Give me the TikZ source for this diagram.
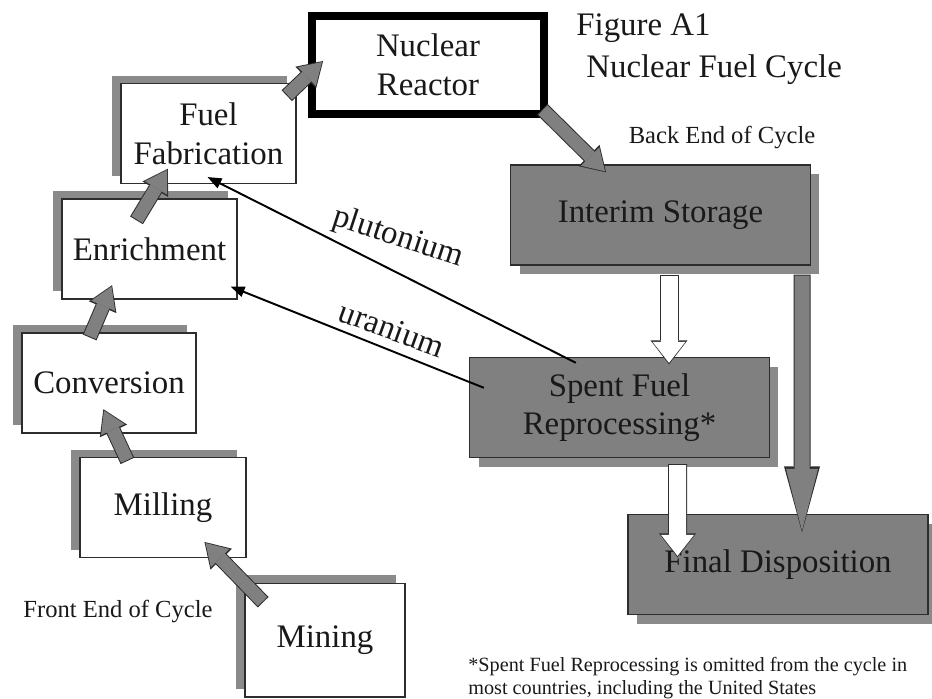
\documentclass[tikz,border=0pt]{standalone}
\usepackage{fontspec}
\setmainfont{Liberation Serif}
\usetikzlibrary{arrows.meta, shadows}

\definecolor{boxgray}{RGB}{128,128,128}
\definecolor{shadegray}{RGB}{138,138,138}
\definecolor{edgegray}{RGB}{45,45,45}

\begin{document}
\begin{tikzpicture}[
          x = 0.02cm, y = -0.02cm,
every node/.style = {font=\fontsize{18.7}{22}\selectfont, text=black!90, inner sep=0pt},
      stage/.style = {rectangle, draw=edgegray, line width=0.6pt, fill=white, align=center,
                      minimum width=3.5cm, minimum height=2cm,
                      drop shadow={fill=shadegray, opacity=1, shadow xshift=-0.18cm, shadow yshift=0.16cm}},
       back/.style = {rectangle, draw=edgegray, line width=0.8pt, fill=boxgray, align=center,
                      minimum width=6cm, minimum height=2cm,
                      drop shadow={fill=shadegray, opacity=1, shadow xshift=0.18cm, shadow yshift=-0.18cm}},
       core/.style = {rectangle, draw=black, line width=0.16cm, fill=white, align=center,
                      minimum width=4.64cm, minimum height=1.96cm},
      small/.style = {font=\fontsize{14}{16}\selectfont},
       note/.style = {font=\fontsize{11.5}{12.6}\selectfont, align=left},
    grayarr/.style = {draw=boxgray, line width=0.26cm,
                      -{Triangle[length=0.42cm, width=0.52cm, line width=0pt]},
                      preaction={draw=edgegray, line width=0.30cm, shorten >=-0.03cm, shorten <=-0.02cm,
                                 -{Triangle[length=0.48cm, width=0.60cm, line width=0pt]}}},
   whitearr/.style = {draw=white, line width=0.34cm,
                      -{Triangle[length=0.42cm, width=0.66cm, line width=0pt]},
                      preaction={draw=edgegray, line width=0.38cm, shorten >=-0.03cm, shorten <=-0.02cm,
                                 -{Triangle[length=0.48cm, width=0.74cm, line width=0pt]}}},
    longarr/.style = {draw=boxgray, line width=0.30cm,
                      -{Triangle[length=1.24cm, width=0.64cm, line width=0pt]},
                      preaction={draw=edgegray, line width=0.34cm, shorten >=-0.03cm, shorten <=-0.02cm,
                                 -{Triangle[length=1.32cm, width=0.72cm, line width=0pt]}}},
    recycle/.style = {draw=black, line width=1.1pt, -{Triangle[length=8pt, width=6pt]}}
                     ]
\useasboundingbox (0,0) rectangle (932,698);
% front end of the cycle
\node (fab)    [stage] at (208.5,133.5) {Fuel\\Fabrication};
\node (enrich) [stage] at (149.5,249)   {Enrichment};
\node (conv)   [stage, minimum width=3.48cm] at (109,383) {Conversion};
\node (mill)   [stage, minimum width=3.32cm] at (163,507.5) {Milling};
\node (mine)   [stage, minimum width=3.2cm, minimum height=2.28cm] at (325,640) {Mining};
\node (reactor) [core] at (428,65) {Nuclear\\Reactor};
% back end of the cycle
\node (store) [back] at (660.5,215)   {Interim Storage};
\node (spent) [back] at (619.5,407.5) {Spent Fuel\\Reprocessing*};
\node (final) [back] at (778,564.5)   {Final Disposition};
% texts
\node (title)    [anchor=west] at (576,28) {Figure A1};
\node (subtitle) [anchor=west] at (586,70) {Nuclear Fuel Cycle};
\node (backend)  [small] at (722,137) {Back End of Cycle};
\node (frontend) [small] at (118,611) {Front End of Cycle};
\node (footnote) [note, anchor=west] at (468,678)
  {*Spent Fuel Reprocessing is omitted from the cycle in\\most countries, including the United States};
\node (pu) [rotate=-18] at (398,238) {plutonium};
\node (u)  [rotate=-20] at (392,329) {uranium};
% flows
\draw[grayarr] ([shift={(18,19)}]mine.north west) -- ([shift={(-41,-15)}]mill.south east);
\draw[grayarr] ([shift={(-36,3)}]mill.north) -- ([shift={(-5,-23)}]conv.south);
\draw[grayarr] ([shift={(-19,4)}]conv.north) -- ([shift={(-38,-13)}]enrich.south);
\draw[grayarr] ([shift={(-12.5,21)}]enrich.north) -- ([shift={(-41.5,-14)}]fab.south);
\draw[grayarr] ([shift={(-9,12)}]fab.north east) -- ([shift={(14,-3)}]reactor.west);
\draw[grayarr] ([shift={(-5,-8)}]reactor.south east) -- ([shift={(-55.5,7)}]store.north);
\draw[whitearr] ([shift={(8.5,10)}]store.south) -- ([shift={(49.5,6)}]spent.north);
\draw[whitearr] ([shift={(58,7)}]spent.south) -- ([shift={(-100.5,42)}]final.north);
\draw[longarr] ([shift={(141.5,10)}]store.south) -- ([shift={(24,17)}]final.north);
\draw[recycle] ([shift={(107,6)}]spent.north west) -- ([shift={(87,-7)}]fab.south west);
\draw[recycle] ([shift={(15,31)}]spent.north west) -- ([shift={(-7,-13)}]enrich.south east);
\end{tikzpicture}
\end{document}
